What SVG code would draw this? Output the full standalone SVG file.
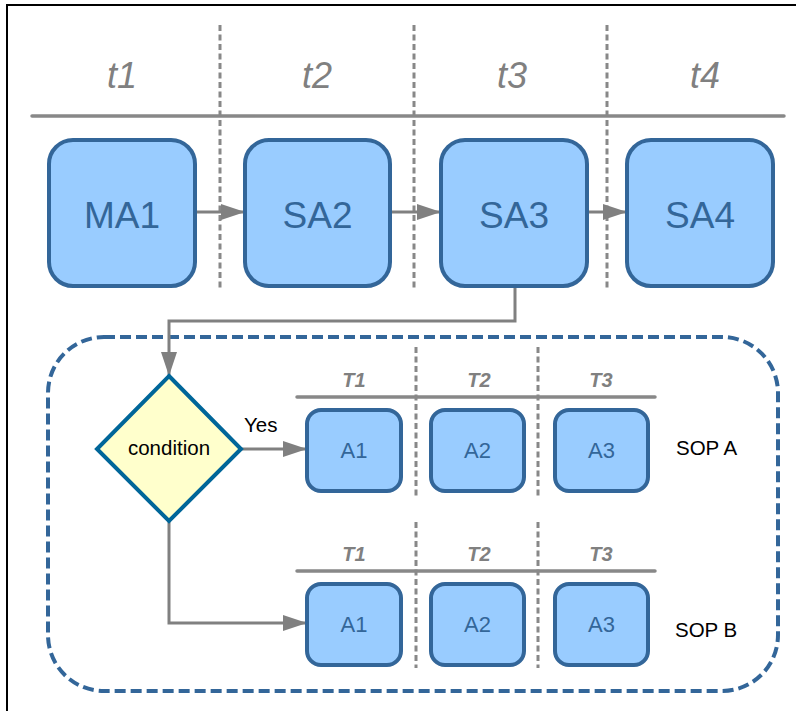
<svg xmlns="http://www.w3.org/2000/svg" width="796" height="711" viewBox="0 0 796 711">
<defs>
<marker id="ah" viewBox="0 0 24 16" refX="24" refY="8" markerWidth="24" markerHeight="16" markerUnits="userSpaceOnUse" orient="auto">
<path d="M0,0 L24,8 L0,16 Z" fill="#808080"/>
</marker>
<style>
.frame{stroke:#000;stroke-width:2;fill:none}
.hl{stroke:#888;stroke-width:3.5;fill:none;stroke-linecap:round}
.vd{stroke:#888;stroke-width:3;fill:none;stroke-dasharray:6 3.5}
.big{fill:#99ccff;stroke:#336699;stroke-width:4}
.sm{fill:#99ccff;stroke:#336699;stroke-width:4}
.bigt{font-family:"Liberation Sans",Arial,sans-serif;font-size:37px;fill:#336699;text-anchor:middle}
.smt{font-family:"Liberation Sans",Arial,sans-serif;font-size:22px;fill:#336699;text-anchor:middle}
.tt{font-family:"Liberation Sans",Arial,sans-serif;font-size:36px;font-style:italic;fill:#808080;text-anchor:middle}
.TT{font-family:"Liberation Sans",Arial,sans-serif;font-size:20px;font-style:italic;font-weight:bold;fill:#808080;text-anchor:middle}
.lbl{font-family:"Liberation Sans",Arial,sans-serif;font-size:20.5px;fill:#000}
.conn{stroke:#808080;stroke-width:3;fill:none}
.cont{fill:none;stroke:#336699;stroke-width:4;stroke-dasharray:11 5}
</style>
</defs>
<rect width="796" height="711" fill="#fff"/>
<path class="frame" d="M7,711 L7,5 L796,5"/>
<g id="timeline">
<line class="hl" x1="32" y1="116" x2="784" y2="116"/>
<line class="vd" x1="220" y1="25" x2="220" y2="290"/>
<line class="vd" x1="414" y1="25" x2="414" y2="290"/>
<line class="vd" x1="607" y1="25" x2="607" y2="290"/>
<text class="tt" x="122" y="88">t1</text>
<text class="tt" x="317" y="88">t2</text>
<text class="tt" x="512" y="88">t3</text>
<text class="tt" x="705" y="88">t4</text>
</g>
<g id="container">
<rect class="cont" x="48" y="337" width="730" height="354" rx="56"/>
</g>
<g id="sop-grid">
<line class="hl" x1="297" y1="397" x2="655" y2="397"/>
<line class="vd" x1="416" y1="347" x2="416" y2="497"/>
<line class="vd" x1="538" y1="347" x2="538" y2="497"/>
<text class="TT" x="354" y="387">T1</text>
<text class="TT" x="479" y="387">T2</text>
<text class="TT" x="601" y="387">T3</text>
<line class="hl" x1="297" y1="571" x2="655" y2="571"/>
<line class="vd" x1="416" y1="522" x2="416" y2="668"/>
<line class="vd" x1="538" y1="522" x2="538" y2="668"/>
<text class="TT" x="354" y="561">T1</text>
<text class="TT" x="479" y="561">T2</text>
<text class="TT" x="601" y="561">T3</text>
<text class="lbl" x="676" y="455">SOP A</text>
<text class="lbl" x="675" y="637">SOP B</text>
</g>
<g id="connectors">
<line class="conn" x1="195" y1="212" x2="245" y2="212" marker-end="url(#ah)"/>
<line class="conn" x1="390" y1="212" x2="441" y2="212" marker-end="url(#ah)"/>
<line class="conn" x1="587" y1="212" x2="627" y2="212" marker-end="url(#ah)"/>
<polyline class="conn" points="515,286 515,321 169,321 169,376" marker-end="url(#ah)"/>
<line class="conn" x1="241" y1="449" x2="307" y2="449" marker-end="url(#ah)"/>
<polyline class="conn" points="169,521 169,623 307,623" marker-end="url(#ah)"/>
<text class="lbl" x="244" y="432">Yes</text>
</g>
<g id="MA1"><rect class="big" x="49" y="140" width="146" height="146" rx="24"/><text class="bigt" x="122" y="228">MA1</text></g>
<g id="SA2"><rect class="big" x="245" y="140" width="145" height="146" rx="24"/><text class="bigt" x="317.5" y="228">SA2</text></g>
<g id="SA3"><rect class="big" x="441" y="140" width="146" height="146" rx="24"/><text class="bigt" x="514" y="228">SA3</text></g>
<g id="SA4"><rect class="big" x="627" y="140" width="146" height="146" rx="24"/><text class="bigt" x="700" y="228">SA4</text></g>
<g id="condition"><polygon points="169,376 241,449 169,521 97,449" fill="#ffffcc" stroke="#006699" stroke-width="4"/><text class="lbl" x="169" y="455" text-anchor="middle">condition</text></g>
<g id="A1a"><rect class="sm" x="307" y="410" width="94" height="81" rx="14"/><text class="smt" x="354" y="458">A1</text></g>
<g id="A2a"><rect class="sm" x="431" y="410" width="93" height="81" rx="14"/><text class="smt" x="477.5" y="458">A2</text></g>
<g id="A3a"><rect class="sm" x="555" y="410" width="93" height="81" rx="14"/><text class="smt" x="601.5" y="458">A3</text></g>
<g id="A1b"><rect class="sm" x="307" y="584" width="94" height="81" rx="14"/><text class="smt" x="354" y="632">A1</text></g>
<g id="A2b"><rect class="sm" x="431" y="584" width="93" height="81" rx="14"/><text class="smt" x="477.5" y="632">A2</text></g>
<g id="A3b"><rect class="sm" x="555" y="584" width="93" height="81" rx="14"/><text class="smt" x="601.5" y="632">A3</text></g>
</svg>
